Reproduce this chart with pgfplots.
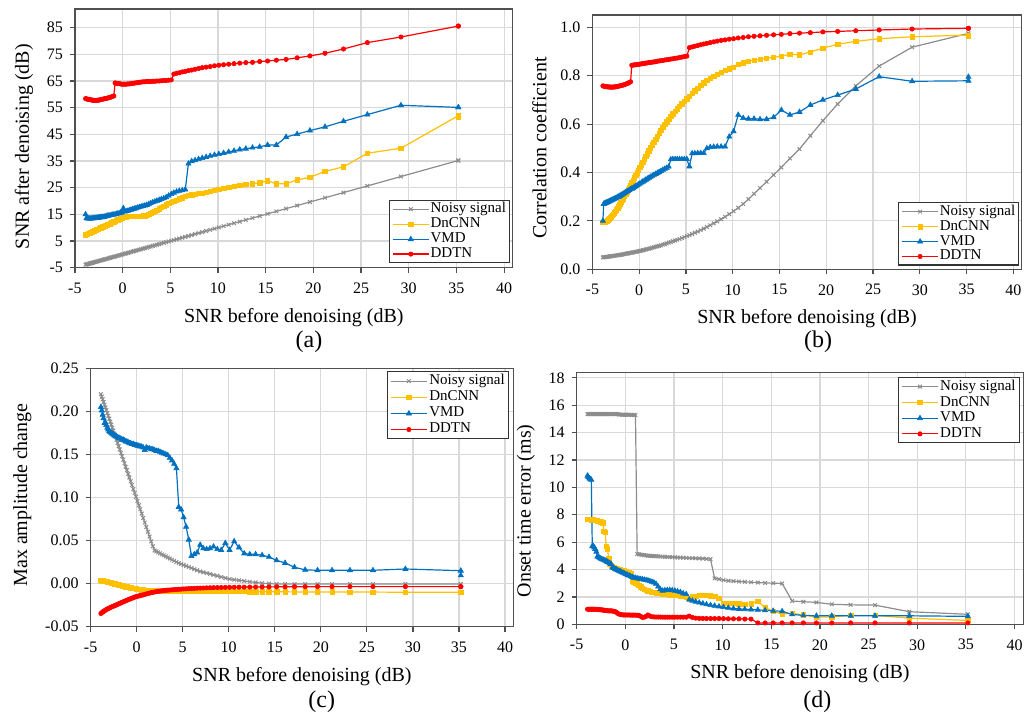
\documentclass[border=0pt]{standalone}
\usepackage{fontspec}
\setmainfont{Liberation Serif}
\usepackage{pgfplots}
\usepackage{pgfplotstable}
\pgfplotsset{compat=1.18}

\definecolor{noisy}{HTML}{8C8C8C}
\definecolor{dncnn}{HTML}{FFC000}
\definecolor{vmd}{HTML}{0070C0}
\definecolor{ddtn}{HTML}{FF0000}
\definecolor{gridc}{HTML}{D9D9D9}
\definecolor{framec}{HTML}{505050}

% SNR after denoising (dB)
\pgfplotstableread{
x N D V T
35.20 35.20 51.5 55.1 85.6
35.20 35.20 52.0 55.1 85.6
29.18 29.18 39.8 55.9 81.5
25.66 25.66 37.9 52.4 79.4
23.16 23.16 32.8 49.9 77.0
21.22 21.22 31.1 47.8 75.4
19.64 19.64 28.9 46.4 74.4
18.30 18.30 27.9 45.1 73.7
17.14 17.14 26.5 44.0 73.1
16.12 16.12 26.4 41.0 72.8
15.20 15.20 27.6 41.0 72.5
14.37 14.37 26.8 40.3 72.3
13.62 13.62 26.5 40.0 72.0
12.92 12.92 26.2 39.6 71.9
12.28 12.28 25.9 39.3 71.7
11.68 11.68 25.5 38.8 71.5
11.12 11.12 25.2 38.4 71.3
10.59 10.59 24.8 38.0 71.1
10.09 10.09 24.4 37.6 70.9
9.63 9.63 24.0 37.3 70.7
9.18 9.18 23.6 36.9 70.4
8.76 8.76 23.3 36.5 70.2
8.35 8.35 23.0 36.1 70.0
7.97 7.97 22.8 35.7 69.7
7.60 7.60 22.6 35.3 69.4
7.24 7.24 22.4 34.9 69.1
6.90 6.90 22.2 34.0 68.9
6.57 6.57 21.7 24.3 68.6
6.26 6.26 21.2 24.0 68.4
5.95 5.95 20.8 23.8 68.1
5.66 5.66 20.3 23.5 67.9
5.37 5.37 19.9 23.1 67.6
5.10 5.10 19.5 22.6 65.4
4.83 4.83 19.1 22.0 65.3
4.57 4.57 18.6 21.4 65.2
4.32 4.32 18.1 21.0 65.2
4.07 4.07 17.6 20.7 65.1
3.84 3.84 17.1 20.4 65.0
3.60 3.60 16.6 20.1 65.0
3.38 3.38 16.1 19.8 64.9
3.16 3.16 15.7 19.5 64.9
2.94 2.94 15.3 19.2 64.8
2.74 2.74 15.0 18.8 64.8
2.53 2.53 14.7 18.5 64.8
2.33 2.33 14.5 18.3 64.7
2.14 2.14 14.4 18.1 64.7
1.95 1.95 14.3 17.9 64.6
1.76 1.76 14.3 17.7 64.5
1.58 1.58 14.3 17.5 64.4
1.40 1.40 14.3 17.3 64.3
1.22 1.22 14.3 17.1 64.2
1.05 1.05 14.2 16.9 64.1
0.88 0.88 14.2 16.7 64.0
0.71 0.71 14.2 16.5 63.9
0.55 0.55 14.2 16.3 63.9
0.39 0.39 14.1 16.1 63.8
0.24 0.24 14.0 16.0 63.8
0.08 0.08 13.8 17.3 63.8
-0.07 -0.07 13.6 15.7 63.8
-0.22 -0.22 13.3 15.6 63.9
-0.36 -0.36 13.1 15.4 64.0
-0.51 -0.51 12.9 15.3 64.0
-0.65 -0.65 12.7 15.1 64.1
-0.79 -0.79 12.4 15.0 64.3
-0.92 -0.92 12.2 14.9 59.4
-1.06 -1.06 12.0 14.8 59.2
-1.19 -1.19 11.8 14.7 59.0
-1.32 -1.32 11.5 14.6 58.9
-1.45 -1.45 11.3 14.5 58.7
-1.58 -1.58 11.1 14.4 58.6
-1.70 -1.70 10.9 14.3 58.5
-1.83 -1.83 10.7 14.2 58.4
-1.95 -1.95 10.5 14.1 58.3
-2.07 -2.07 10.3 14.0 58.2
-2.19 -2.19 10.1 13.9 58.1
-2.30 -2.30 9.9 13.9 58.0
-2.42 -2.42 9.7 13.8 57.9
-2.53 -2.53 9.5 13.7 57.8
-2.64 -2.64 9.4 13.7 57.8
-2.75 -2.75 9.2 13.6 57.7
-2.86 -2.86 9.0 13.6 57.7
-2.97 -2.97 8.8 13.5 57.7
-3.08 -3.08 8.6 13.5 57.8
-3.18 -3.18 8.5 13.5 57.8
-3.29 -3.29 8.3 13.4 57.9
-3.39 -3.39 8.1 13.4 58.0
-3.49 -3.49 7.9 13.4 58.1
-3.59 -3.59 7.8 13.4 58.1
-3.69 -3.69 7.6 13.5 58.2
-3.79 -3.79 7.45 13.5 58.3
-3.88 -3.88 7.3 15.0 58.4
}\tableA

% Correlation coefficient
\pgfplotstableread{
x N D V T
35.20 0.975 0.965 0.795 0.996
35.20 0.975 0.968 0.779 0.996
29.18 0.918 0.961 0.777 0.993
25.66 0.840 0.953 0.796 0.989
23.16 0.758 0.942 0.745 0.986
21.22 0.683 0.930 0.720 0.983
19.64 0.614 0.914 0.700 0.981
18.30 0.552 0.898 0.679 0.978
17.14 0.497 0.886 0.650 0.976
16.12 0.458 0.889 0.638 0.974
15.20 0.421 0.881 0.658 0.971
14.37 0.390 0.876 0.628 0.969
13.62 0.362 0.872 0.620 0.967
12.92 0.336 0.868 0.620 0.965
12.28 0.312 0.864 0.622 0.963
11.68 0.290 0.859 0.622 0.961
11.12 0.270 0.853 0.625 0.958
10.59 0.254 0.846 0.638 0.956
10.09 0.240 0.835 0.570 0.953
9.63 0.228 0.829 0.548 0.951
9.18 0.217 0.822 0.507 0.948
8.76 0.207 0.814 0.507 0.946
8.35 0.198 0.806 0.507 0.943
7.97 0.190 0.798 0.506 0.940
7.60 0.182 0.789 0.505 0.937
7.24 0.175 0.780 0.500 0.934
6.90 0.168 0.770 0.480 0.931
6.57 0.162 0.760 0.480 0.928
6.26 0.156 0.749 0.480 0.925
5.95 0.151 0.738 0.479 0.922
5.66 0.146 0.727 0.479 0.919
5.37 0.141 0.716 0.425 0.916
5.10 0.137 0.705 0.455 0.881
4.83 0.133 0.694 0.455 0.879
4.57 0.129 0.684 0.455 0.877
4.32 0.125 0.674 0.455 0.875
4.07 0.122 0.664 0.455 0.873
3.84 0.119 0.653 0.455 0.872
3.60 0.116 0.643 0.455 0.870
3.38 0.113 0.632 0.454 0.869
3.16 0.110 0.621 0.424 0.867
2.94 0.107 0.610 0.419 0.866
2.74 0.104 0.598 0.415 0.865
2.53 0.102 0.586 0.411 0.863
2.33 0.099 0.574 0.406 0.862
2.14 0.097 0.562 0.402 0.861
1.95 0.095 0.550 0.398 0.860
1.76 0.093 0.538 0.394 0.858
1.58 0.091 0.526 0.390 0.857
1.40 0.089 0.514 0.386 0.856
1.22 0.087 0.502 0.382 0.855
1.05 0.085 0.490 0.378 0.854
0.88 0.084 0.478 0.374 0.853
0.71 0.082 0.466 0.370 0.852
0.55 0.080 0.454 0.366 0.851
0.39 0.079 0.443 0.362 0.850
0.24 0.077 0.432 0.358 0.849
0.08 0.076 0.421 0.354 0.848
-0.07 0.075 0.410 0.350 0.847
-0.22 0.073 0.399 0.347 0.846
-0.36 0.072 0.389 0.343 0.845
-0.51 0.071 0.378 0.340 0.845
-0.65 0.070 0.368 0.336 0.844
-0.79 0.069 0.358 0.333 0.843
-0.92 0.068 0.348 0.330 0.775
-1.06 0.067 0.338 0.327 0.772
-1.19 0.066 0.329 0.324 0.769
-1.32 0.065 0.319 0.321 0.767
-1.45 0.064 0.310 0.318 0.765
-1.58 0.063 0.301 0.315 0.763
-1.70 0.062 0.292 0.312 0.762
-1.83 0.061 0.284 0.309 0.760
-1.95 0.060 0.276 0.306 0.759
-2.07 0.060 0.268 0.303 0.758
-2.19 0.059 0.260 0.300 0.757
-2.30 0.058 0.253 0.298 0.756
-2.42 0.057 0.246 0.295 0.755
-2.53 0.057 0.239 0.293 0.754
-2.64 0.056 0.233 0.291 0.754
-2.75 0.055 0.227 0.289 0.753
-2.86 0.055 0.222 0.287 0.753
-2.97 0.054 0.217 0.285 0.753
-3.08 0.054 0.212 0.283 0.753
-3.18 0.053 0.208 0.281 0.753
-3.29 0.052 0.204 0.279 0.754
-3.39 0.052 0.201 0.277 0.754
-3.49 0.051 0.199 0.275 0.755
-3.59 0.051 0.197 0.274 0.755
-3.69 0.050 0.195 0.272 0.756
-3.79 0.050 0.194 0.270 0.757
-3.88 0.049 0.193 0.200 0.758
}\tableB

% Max amplitude change
\pgfplotstableread{
x N D V T
35.20 -0.0005 -0.0100 0.0095 -0.0035
35.20 -0.0005 -0.0100 0.0150 -0.0035
29.18 -0.0005 -0.0100 0.0170 -0.0035
25.66 -0.0005 -0.0098 0.0155 -0.0035
23.16 -0.0005 -0.0098 0.0155 -0.0035
21.22 -0.0005 -0.0097 0.0155 -0.0035
19.64 -0.0005 -0.0097 0.0155 -0.0035
18.30 -0.0005 -0.0096 0.0160 -0.0036
17.14 -0.0005 -0.0096 0.0190 -0.0036
16.12 -0.0005 -0.0095 0.0240 -0.0037
15.20 -0.0005 -0.0095 0.0270 -0.0037
14.37 0.0000 -0.0094 0.0310 -0.0038
13.62 0.0005 -0.0094 0.0330 -0.0039
12.92 0.0013 -0.0093 0.0340 -0.0039
12.28 0.0022 -0.0093 0.0340 -0.0040
11.68 0.0030 -0.0092 0.0350 -0.0041
11.12 0.0038 -0.0092 0.0420 -0.0041
10.59 0.0046 -0.0091 0.0490 -0.0042
10.09 0.0053 -0.0091 0.0390 -0.0043
9.63 0.0065 -0.0090 0.0470 -0.0044
9.18 0.0078 -0.0090 0.0390 -0.0045
8.76 0.0090 -0.0089 0.0400 -0.0046
8.35 0.0101 -0.0089 0.0430 -0.0047
7.97 0.0112 -0.0088 0.0410 -0.0048
7.60 0.0122 -0.0088 0.0400 -0.0049
7.24 0.0132 -0.0088 0.0410 -0.0051
6.90 0.0142 -0.0087 0.0450 -0.0052
6.57 0.0155 -0.0087 0.0360 -0.0053
6.26 0.0168 -0.0087 0.0340 -0.0055
5.95 0.0181 -0.0086 0.0320 -0.0057
5.66 0.0193 -0.0086 0.0510 -0.0058
5.37 0.0205 -0.0086 0.0660 -0.0060
5.10 0.0217 -0.0085 0.0770 -0.0062
4.83 0.0228 -0.0085 0.0860 -0.0064
4.57 0.0239 -0.0085 0.0890 -0.0066
4.32 0.0250 -0.0085 0.1340 -0.0068
4.07 0.0264 -0.0084 0.1390 -0.0070
3.84 0.0277 -0.0084 0.1430 -0.0072
3.60 0.0291 -0.0084 0.1460 -0.0074
3.38 0.0304 -0.0083 0.1490 -0.0076
3.16 0.0316 -0.0083 0.1500 -0.0078
2.94 0.0329 -0.0083 0.1510 -0.0081
2.74 0.0340 -0.0082 0.1520 -0.0084
2.53 0.0352 -0.0082 0.1530 -0.0087
2.33 0.0363 -0.0082 0.1540 -0.0090
2.14 0.0374 -0.0081 0.1540 -0.0093
1.95 0.0385 -0.0081 0.1550 -0.0097
1.76 0.0434 -0.0080 0.1560 -0.0101
1.58 0.0490 -0.0079 0.1560 -0.0105
1.40 0.0547 -0.0078 0.1570 -0.0110
1.22 0.0603 -0.0077 0.1570 -0.0115
1.05 0.0656 -0.0076 0.1580 -0.0120
0.88 0.0710 -0.0074 0.1550 -0.0125
0.71 0.0763 -0.0072 0.1580 -0.0130
0.55 0.0813 -0.0070 0.1590 -0.0135
0.39 0.0863 -0.0068 0.1590 -0.0139
0.24 0.0910 -0.0066 0.1600 -0.0143
0.08 0.0960 -0.0063 0.1600 -0.0147
-0.07 0.1007 -0.0060 0.1610 -0.0151
-0.22 0.1054 -0.0057 0.1610 -0.0157
-0.36 0.1098 -0.0054 0.1620 -0.0163
-0.51 0.1145 -0.0051 0.1620 -0.0169
-0.65 0.1188 -0.0048 0.1630 -0.0175
-0.79 0.1232 -0.0045 0.1630 -0.0181
-0.92 0.1273 -0.0042 0.1640 -0.0187
-1.06 0.1317 -0.0038 0.1650 -0.0193
-1.19 0.1357 -0.0035 0.1650 -0.0199
-1.32 0.1398 -0.0031 0.1660 -0.0205
-1.45 0.1439 -0.0027 0.1670 -0.0211
-1.58 0.1480 -0.0024 0.1670 -0.0217
-1.70 0.1517 -0.0020 0.1680 -0.0223
-1.83 0.1558 -0.0017 0.1690 -0.0229
-1.95 0.1595 -0.0013 0.1690 -0.0235
-2.07 0.1633 -0.0010 0.1700 -0.0241
-2.19 0.1670 -0.0006 0.1710 -0.0246
-2.30 0.1705 -0.0003 0.1710 -0.0252
-2.42 0.1742 0.0000 0.1720 -0.0257
-2.53 0.1777 0.0003 0.1730 -0.0262
-2.64 0.1811 0.0006 0.1740 -0.0267
-2.75 0.1846 0.0009 0.1750 -0.0272
-2.86 0.1880 0.0012 0.1760 -0.0278
-2.97 0.1915 0.0015 0.1770 -0.0283
-3.08 0.1949 0.0018 0.1790 -0.0289
-3.18 0.1980 0.0021 0.1810 -0.0295
-3.29 0.2015 0.0024 0.1840 -0.0301
-3.39 0.2046 0.0026 0.1870 -0.0308
-3.49 0.2077 0.0029 0.1860 -0.0315
-3.59 0.2109 0.0031 0.1920 -0.0322
-3.69 0.2140 0.0033 0.1960 -0.0330
-3.79 0.2171 0.0035 0.2010 -0.0338
-3.88 0.2199 0.0037 0.2050 -0.0347
}\tableC

% Onset time error (ms)
\pgfplotstableread{
x N D V T
35.20 0.73 0.28 0.58 0.10
29.18 0.92 0.45 0.62 0.10
25.66 1.40 0.65 0.62 0.10
23.16 1.42 0.65 0.62 0.10
21.22 1.46 0.55 0.62 0.10
19.64 1.60 0.52 0.62 0.10
18.30 1.65 0.68 0.65 0.10
17.14 1.70 0.80 0.72 0.10
16.12 2.98 0.75 0.95 0.10
15.20 3.00 0.95 0.98 0.10
14.37 3.02 1.20 1.02 0.10
13.62 3.05 1.70 1.05 0.10
12.92 3.07 1.50 1.08 0.38
12.28 3.10 1.48 1.10 0.38
11.68 3.12 1.50 1.12 0.40
11.12 3.15 1.52 1.15 0.40
10.59 3.18 1.52 1.20 0.40
10.09 3.22 1.55 1.25 0.41
9.63 3.30 1.90 1.30 0.42
9.18 3.35 2.05 1.35 0.42
8.76 4.76 2.08 1.40 0.42
8.35 4.78 2.10 1.45 0.42
7.97 4.80 2.10 1.52 0.43
7.60 4.81 2.10 1.58 0.43
7.24 4.82 2.05 1.65 0.45
6.90 4.83 2.00 1.72 0.50
6.57 4.84 1.85 1.80 0.60
6.26 4.85 2.00 2.20 0.52
5.95 4.86 2.05 2.25 0.52
5.66 4.87 2.08 2.35 0.52
5.37 4.88 2.10 2.40 0.52
5.10 4.89 2.10 2.45 0.52
4.83 4.90 2.12 2.48 0.52
4.57 4.91 2.15 2.50 0.52
4.32 4.92 2.18 2.50 0.52
4.07 4.93 2.20 2.48 0.52
3.84 4.94 2.22 2.45 0.52
3.60 4.95 2.25 2.55 0.53
3.38 4.96 2.28 2.75 0.53
3.16 4.97 2.30 2.95 0.53
2.94 4.98 2.32 3.05 0.54
2.74 4.99 2.35 3.10 0.55
2.53 5.00 2.40 3.15 0.60
2.33 5.01 2.45 3.20 0.68
2.14 5.03 2.50 3.22 0.58
1.95 5.05 2.55 3.25 0.52
1.76 5.07 2.65 3.28 0.50
1.58 5.09 2.75 3.30 0.58
1.40 5.11 2.85 3.32 0.65
1.22 5.14 2.95 3.35 0.66
1.05 15.28 3.00 3.38 0.67
0.88 15.28 3.05 3.40 0.67
0.71 15.29 3.15 3.45 0.67
0.55 15.29 3.70 3.50 0.67
0.39 15.30 3.75 3.55 0.68
0.24 15.30 3.80 3.60 0.68
0.08 15.30 3.85 3.65 0.68
-0.07 15.30 3.90 3.70 0.68
-0.22 15.30 3.92 3.75 0.68
-0.36 15.30 3.95 3.80 0.70
-0.51 15.31 4.00 3.85 0.72
-0.65 15.32 4.02 3.90 0.75
-0.79 15.35 4.05 3.95 0.80
-0.92 15.35 4.08 4.00 0.88
-1.06 15.35 4.10 4.05 0.93
-1.19 15.35 4.15 4.10 0.95
-1.32 15.35 4.20 4.15 0.97
-1.45 15.35 4.30 4.40 0.98
-1.58 15.35 4.40 4.45 0.98
-1.70 15.35 4.80 4.50 0.98
-1.83 15.35 5.50 4.55 1.00
-1.95 15.35 5.70 4.60 1.00
-2.07 15.35 6.70 4.65 1.02
-2.19 15.35 6.80 4.70 1.02
-2.30 15.35 7.40 4.72 1.05
-2.42 15.35 7.45 4.75 1.05
-2.53 15.35 7.48 4.80 1.06
-2.64 15.35 7.50 4.85 1.07
-2.75 15.35 7.52 4.90 1.08
-2.86 15.35 7.55 4.95 1.08
-2.97 15.35 7.58 5.30 1.09
-3.08 15.35 7.60 5.50 1.09
-3.18 15.35 7.60 5.60 1.10
-3.29 15.35 7.62 5.70 1.10
-3.39 15.35 7.63 5.70 1.10
-3.49 15.35 7.64 10.55 1.10
-3.59 15.35 7.65 10.60 1.10
-3.69 15.35 7.65 10.65 1.10
-3.79 15.35 7.66 10.75 1.10
-3.88 15.35 7.66 10.85 1.10
}\tableD

\pgfplotsset{
  panel/.style={
    scale only axis,
    anchor=south west,
    xmin=-5, xmax=40.9,
    xtick={-5,0,...,40},
    xticklabels={-5,0,5,10,15,20,25,30,35,40},
    grid=major,
    major grid style={gridc, line width=0.6pt},
    axis line style={framec, line width=0.7pt},
    tick align=outside,
    tick pos=left,
    major tick length=2.5pt,
    tick style={framec, line width=0.6pt},
    tick label style={font=\fontsize{8}{9}\selectfont},
    xticklabel style={yshift=-1.5pt},
    label style={font=\fontsize{10}{12}\selectfont},
    xlabel={SNR before denoising (dB)},
    xlabel style={yshift=-0.5pt},
    legend cell align=left,
    legend style={draw=black!80, line width=0.6pt, fill=white,
      font=\fontsize{7.5}{8}\selectfont,
      inner xsep=1.2pt, inner ysep=0.6pt, row sep=0pt,
      nodes={inner sep=0.5pt},
      /tikz/every even column/.append style={column sep=3.4pt}},
    legend image code/.code={%
      \draw[mark repeat=2,mark phase=2] plot coordinates {(0cm,0cm) (0.32cm,0cm) (0.64cm,0cm)};},
    every axis plot/.append style={line width=0.6pt},
  },
  sNoisy/.style={noisy, mark=x, mark size=1.3pt, mark options={solid, line width=0.5pt}},
  sDn/.style={dncnn, mark=square*, mark size=1.1pt, mark options={solid, line width=0.3pt}},
  sVmd/.style={vmd, mark=triangle*, mark size=1.5pt, mark options={solid, line width=0.3pt}},
  sDd/.style={ddtn, mark=*, mark size=1.1pt, mark options={solid, line width=0.3pt}},
}

\begin{document}
\begin{tikzpicture}
\path[use as bounding box] (0,0) rectangle (513pt,358pt);

% (a) SNR after denoising
\begin{axis}[panel, at={(37.45pt,224.15pt)}, width=218.9pt, height=129.35pt,
  ymin=-5, ymax=92, ytick={-5,5,...,85},
  yticklabels={-5,5,15,25,35,45,55,65,75,85},
  ylabel={SNR after denoising (dB)},
  ylabel style={at={(ticklabel cs:0.468)}},
  legend style={at={(1,0)}, anchor=south east, xshift=-1.35pt, yshift=2.2pt}]
\addplot[sNoisy] table[x=x, y=N] {\tableA};
\addplot[sDn] table[x=x, y=D] {\tableA};
\addplot[sVmd] table[x=x, y=V] {\tableA};
\addplot[sDd] table[x=x, y=T] {\tableA};
\legend{Noisy signal, DnCNN, VMD, DDTN}
\end{axis}

% (b) Correlation coefficient
\begin{axis}[panel, at={(296.2pt,223.35pt)}, width=214.65pt, height=127.15pt,
  ymin=0, ymax=1.051, ytick={0,0.2,...,1.0},
  yticklabels={0.0,0.2,0.4,0.6,0.8,1.0},
  ylabel={Correlation coefficient},
  ylabel style={at={(ticklabel cs:0.477)}},
  legend style={at={(1,0)}, anchor=south east, xshift=-1.2pt, yshift=1.8pt}]
\addplot[sNoisy] table[x=x, y=N] {\tableB};
\addplot[sDn] table[x=x, y=D] {\tableB};
\addplot[sVmd] table[x=x, y=V] {\tableB};
\addplot[sDd] table[x=x, y=T] {\tableB};
\legend{Noisy signal, DnCNN, VMD, DDTN}
\end{axis}

% (c) Max amplitude change
\begin{axis}[panel, at={(45.3pt,44.65pt)}, width=211.35pt, height=129.2pt,
  ymin=-0.05, ymax=0.25, ytick={-0.05,0,0.05,0.1,0.15,0.2,0.25},
  yticklabels={-0.05,0.00,0.05,0.10,0.15,0.20,0.25},
  ylabel={Max amplitude change},
  ylabel style={at={(ticklabel cs:0.51)}},
  legend style={at={(1,1)}, anchor=north east, xshift=-2pt, yshift=-1.35pt,
    nodes={inner sep=0.8pt}}]
\addplot[sNoisy] table[x=x, y=N] {\tableC};
\addplot[sDn] table[x=x, y=D] {\tableC};
\addplot[sVmd] table[x=x, y=V] {\tableC};
\addplot[sDd] table[x=x, y=T] {\tableC};
\legend{Noisy signal, DnCNN, VMD, DDTN}
\end{axis}

% (d) Onset time error
\begin{axis}[panel, at={(288.3pt,45.85pt)}, width=223.35pt, height=126pt,
  ymin=0, ymax=18.4, ytick={0,2,...,18},
  yticklabels={0,2,4,6,8,10,12,14,16,18},
  ylabel={Onset time error (ms)},
  ylabel style={at={(ticklabel cs:0.45)}},
  legend style={at={(1,1)}, anchor=north east, xshift=-1.65pt, yshift=-2.2pt,
    nodes={inner sep=0.7pt}}]
\addplot[sNoisy] table[x=x, y=N] {\tableD};
\addplot[sDn] table[x=x, y=D] {\tableD};
\addplot[sVmd] table[x=x, y=V] {\tableD};
\addplot[sDd] table[x=x, y=T] {\tableD};
\legend{Noisy signal, DnCNN, VMD, DDTN}
\end{axis}

% panel captions
\node[font=\fontsize{12}{14}\selectfont] at (154.5pt,187pt) {(a)};
\node[font=\fontsize{12}{14}\selectfont] at (409pt,187pt) {(b)};
\node[font=\fontsize{12}{14}\selectfont] at (160.85pt,7.15pt) {(c)};
\node[font=\fontsize{12}{14}\selectfont] at (408.65pt,7.15pt) {(d)};
\end{tikzpicture}
\end{document}
